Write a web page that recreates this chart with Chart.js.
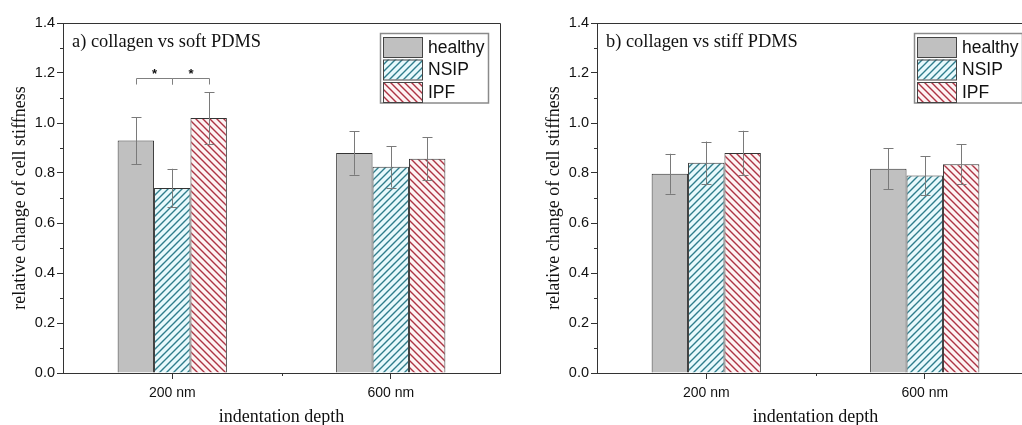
<!DOCTYPE html>
<html>
<head>
<meta charset="utf-8">
<script src="https://cdn.jsdelivr.net/npm/chart.js@4"></script>
<style>
html, body { margin: 0; padding: 0; background: #fff; overflow: hidden; }
#wrap { position: relative; width: 1022px; height: 425px; overflow: hidden; }
#soft { position: absolute; left: 0; top: 0; }
#stiff { position: absolute; left: 534px; top: 0; }
</style>
</head>
<body>
<div id="wrap">
	<canvas id="soft" width="511" height="425"></canvas>
	<canvas id="stiff" width="511" height="425"></canvas>
</div>
<script>
'use strict';
// ---- data ----
const categories = ['200 nm', '600 nm'];
const groups = ['healthy', 'NSIP', 'IPF'];
const yTickValues = [0, 0.2, 0.4, 0.6, 0.8, 1.0, 1.2, 1.4];
const yMinorValues = [0.1, 0.3, 0.5, 0.7, 0.9, 1.1, 1.3];

// a) collagen vs soft PDMS
const softHealthy = [0.93, 0.88];
const softHealthyErr = [0.094, 0.087];
const softNSIP = [0.74, 0.825];
const softNSIPErr = [0.077, 0.083];
const softIPF = [1.02, 0.857];
const softIPFErr = [0.103, 0.087];
// significance brackets: [category, from group, to group, level]
const softSig = [[0, 0, 1, 1.18], [0, 1, 2, 1.18]];

// b) collagen vs stiff PDMS
const stiffHealthy = [0.797, 0.817];
const stiffHealthyErr = [0.08, 0.082];
const stiffNSIP = [0.841, 0.79];
const stiffNSIPErr = [0.085, 0.078];
const stiffIPF = [0.88, 0.835];
const stiffIPFErr = [0.089, 0.08];
const stiffSig = [];

const sans = "'Liberation Sans', Arial, sans-serif";
const serif = "'Liberation Serif', 'Times New Roman', serif";

// hatch patterns
const makeHatch = (bg, fg, dir) => {
	let s = 7,
		c = document.createElement('canvas');
	c.width = s; c.height = s;
	let x = c.getContext('2d');
	x.fillStyle = bg;
	x.fillRect(0, 0, s, s);
	x.strokeStyle = fg;
	x.lineWidth = 1.4;
	x.beginPath();
	if (dir > 0) {
		x.moveTo(0, s); x.lineTo(s, 0);
		x.moveTo(-1, 1); x.lineTo(1, -1);
		x.moveTo(s - 1, s + 1); x.lineTo(s + 1, s - 1);
	} else {
		x.moveTo(0, 0); x.lineTo(s, s);
		x.moveTo(-1, s - 1); x.lineTo(1, s + 1);
		x.moveTo(s - 1, -1); x.lineTo(s + 1, 1);
	}
	x.stroke();
	return x.createPattern(c, 'repeat');
};
const fills = ['#c0c0c0', makeHatch('#e8f9fc', '#2f7d8c', 1), makeHatch('#fdf3f3', '#ad3444', -1)];

//------- [ PLUGINS ] --------
const errorBars = {
	id: 'errorBars',
	afterDatasetsDraw(chart) {
		let ctx = chart.ctx, ys = chart.scales.y;
		ctx.save();
		ctx.strokeStyle = '#7a7a7a';
		ctx.lineWidth = 1;
		chart.data.datasets.forEach((ds, i) => {
			chart.getDatasetMeta(i).data.forEach((bar, j) => {
				let v = ds.data[j], e = ds.err[j],
					t = ys.getPixelForValue(v + e),
					b = ys.getPixelForValue(v - e),
					x = Math.round(bar.x) + 0.5;
				ctx.beginPath();
				ctx.moveTo(x, t); ctx.lineTo(x, b);
				ctx.moveTo(x - 5, Math.round(t) + 0.5); ctx.lineTo(x + 5, Math.round(t) + 0.5);
				ctx.moveTo(x - 5, Math.round(b) + 0.5); ctx.lineTo(x + 5, Math.round(b) + 0.5);
				ctx.stroke();
			});
		});
		ctx.restore();
	}
};

const decorations = {
	id: 'decorations',
	afterDraw(chart, args, opts) {
		let ctx = chart.ctx, a = chart.chartArea,
			ys = chart.scales.y, xs = chart.scales.x;
		ctx.save();
		// frame top + right
		ctx.strokeStyle = '#333';
		ctx.lineWidth = 1;
		ctx.beginPath();
		ctx.moveTo(a.left, a.top + 0.5); ctx.lineTo(a.right + 0.5, a.top + 0.5);
		ctx.lineTo(a.right + 0.5, a.bottom);
		// minor ticks
		yMinorValues.forEach(v => {
			let y = Math.round(ys.getPixelForValue(v)) + 0.5;
			ctx.moveTo(a.left - 3, y); ctx.lineTo(a.left, y);
		});
		let mid = Math.round((xs.getPixelForValue(0) + xs.getPixelForValue(1)) / 2) + 0.5;
		ctx.moveTo(mid, a.bottom); ctx.lineTo(mid, a.bottom + 3);
		ctx.stroke();

		// panel label
		ctx.fillStyle = '#111';
		ctx.font = '18.4px ' + serif;
		ctx.textBaseline = 'alphabetic';
		ctx.textAlign = 'left';
		ctx.fillText(opts.label, a.left + 9, a.top + 24);

		// significance brackets
		ctx.strokeStyle = '#808080';
		ctx.fillStyle = '#111';
		ctx.font = 'bold 13px ' + sans;
		ctx.textAlign = 'center';
		opts.sig.forEach(s => {
			let x1 = Math.round(chart.getDatasetMeta(s[1]).data[s[0]].x) + 0.5,
				x2 = Math.round(chart.getDatasetMeta(s[2]).data[s[0]].x) + 0.5,
				y = Math.round(ys.getPixelForValue(s[3])) + 0.5;
			ctx.beginPath();
			ctx.moveTo(x1, y + 6); ctx.lineTo(x1, y); ctx.lineTo(x2, y); ctx.lineTo(x2, y + 6);
			ctx.stroke();
			ctx.fillText('*', (x1 + x2) / 2, y - 1);
		});

		// legend box
		let bw = 108, rowH = 22.5,
			bx = a.right - 12 - bw, by = a.top + 10;
		ctx.strokeStyle = '#8a8a8a';
		ctx.lineWidth = 1.5;
		ctx.strokeRect(bx + 0.5, by + 0.5, bw, rowH * 3 + 2);
		ctx.font = '17.5px ' + sans;
		ctx.textAlign = 'left';
		ctx.textBaseline = 'middle';
		chart.data.datasets.forEach((ds, i) => {
			let sy = by + 4 + i * rowH;
			ctx.fillStyle = ds.backgroundColor;
			ctx.fillRect(bx + 3, sy, 39, 20);
			ctx.strokeStyle = '#444';
			ctx.lineWidth = 1;
			ctx.strokeRect(bx + 3.5, sy + 0.5, 39, 20);
			ctx.fillStyle = '#111';
			ctx.fillText(ds.label, bx + 48, sy + 11);
		});
		ctx.restore();
	}
};

//------- [ CHART ] --------
const makeChart = (id, label, vals, errs, sig) => {
	let ctx = document.getElementById(id).getContext('2d');
	return new Chart(ctx, {
		type: 'bar',
		data: {
			labels: categories,
			datasets: groups.map((g, i) => ({
				label: g,
				data: vals[i],
				err: errs[i],
				backgroundColor: fills[i],
				borderColor: '#333',
				borderWidth: 1,
				barPercentage: 1,
				categoryPercentage: 0.5
			}))
		},
		options: {
			responsive: false,
			animation: false,
			layout: { padding: { top: 23, right: 11, left: 0, bottom: 0 } },
			plugins: {
				legend: { display: false },
				tooltip: { enabled: false },
				decorations: { label: label, sig: sig }
			},
			scales: {
				x: {
					afterFit: s => { s.height = 52; },
					grid: { offset: false, drawOnChartArea: false, tickLength: 6, tickColor: '#333' },
					border: { color: '#333', width: 1 },
					ticks: { color: '#111', font: { family: sans, size: 14 }, padding: 6 },
					title: { display: true, text: 'indentation depth', color: '#111',
						font: { family: serif, size: 18 }, padding: { top: 0, bottom: -3 } }
				},
				y: {
					min: 0,
					max: 1.4,
					afterFit: s => { s.width = 63; },
					afterBuildTicks: s => { s.ticks = yTickValues.map(v => ({ value: v })); },
					grid: { drawOnChartArea: false, tickLength: 6, tickColor: '#333' },
					border: { color: '#333', width: 1 },
					ticks: { color: '#111', font: { family: sans, size: 14.5 }, padding: 2,
						callback: v => v.toFixed(1) },
					title: { display: true, text: 'relative change of cell stiffness', color: '#111',
						font: { family: serif, size: 18 }, padding: { top: 9, bottom: 0 } }
				}
			}
		},
		plugins: [errorBars, decorations]
	});
};

window.addEventListener('load', () => {
	makeChart('soft', 'a) collagen vs soft PDMS',
		[softHealthy, softNSIP, softIPF], [softHealthyErr, softNSIPErr, softIPFErr], softSig);
	makeChart('stiff', 'b) collagen vs stiff PDMS',
		[stiffHealthy, stiffNSIP, stiffIPF], [stiffHealthyErr, stiffNSIPErr, stiffIPFErr], stiffSig);
});
</script>
</body>
</html>
